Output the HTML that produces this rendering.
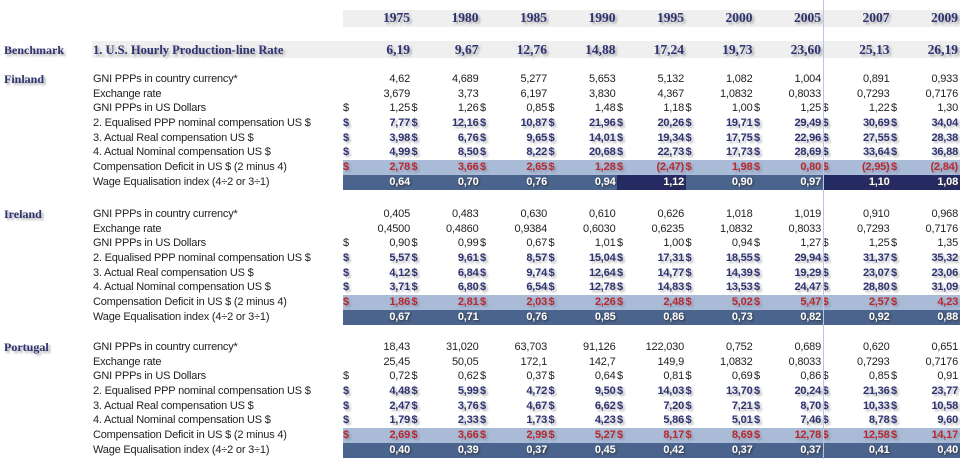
<!DOCTYPE html>
<html><head><meta charset="utf-8"><style>
body{margin:0;width:960px;height:459px;background:#fff;overflow:hidden;position:relative;font-family:"Liberation Sans",sans-serif}
#t{position:absolute;left:0;top:0;width:960px;height:459px}
.c{position:absolute;white-space:nowrap;font-size:11px;line-height:14px;color:#222;letter-spacing:-0.2px}
.b{font-weight:bold;color:#2e3270;text-shadow:2px 2px 2px #b8b8b8}
.r{font-weight:bold;color:#b8282d;text-shadow:2px 2px 2px #8d9cb8}
.w{font-weight:bold;color:#fff;text-shadow:1px 1px 2px #333}
.h{font-family:"Liberation Serif",serif;font-weight:bold;font-size:13.5px;color:#2e3270;text-shadow:2px 2px 2px #aaa;letter-spacing:0}
.band{position:absolute}
</style></head><body>
<div id="t"></div>
<script>
const years=["1975","1980","1985","1990","1995","2000","2005","2007","2009"];
const benchmark=["6,19","9,67","12,76","14,88","17,24","19,73","23,60","25,13","26,19"];
const rowLabels=["GNI PPPs in country currency*","Exchange rate","GNI PPPs in US Dollars","2. Equalised PPP nominal compensation US $","3. Actual Real compensation US $","4. Actual Nominal compensation US $","Compensation Deficit in US $ (2 minus 4)","Wage Equalisation index (4÷2 or 3÷1)"];
const countries=["Finland","Ireland","Portugal"];
const countryTops=[79,214,347];
const finland=[
["4,62","4,689","5,277","5,653","5,132","1,082","1,004","0,891","0,933"],
["3,679","3,73","6,197","3,830","4,367","1,0832","0,8033","0,7293","0,7176"],
["1,25","1,26","0,85","1,48","1,18","1,00","1,25","1,22","1,30"],
["7,77","12,16","10,87","21,96","20,26","19,71","29,49","30,69","34,04"],
["3,98","6,76","9,65","14,01","19,34","17,75","22,96","27,55","28,38"],
["4,99","8,50","8,22","20,68","22,73","17,73","28,69","33,64","36,88"],
["2,78","3,66","2,65","1,28","(2,47)","1,98","0,80","(2,95)","(2,84)"],
["0,64","0,70","0,76","0,94","1,12","0,90","0,97","1,10","1,08"]];
const ireland=[
["0,405","0,483","0,630","0,610","0,626","1,018","1,019","0,910","0,968"],
["0,4500","0,4860","0,9384","0,6030","0,6235","1,0832","0,8033","0,7293","0,7176"],
["0,90","0,99","0,67","1,01","1,00","0,94","1,27","1,25","1,35"],
["5,57","9,61","8,57","15,04","17,31","18,55","29,94","31,37","35,32"],
["4,12","6,84","9,74","12,64","14,77","14,39","19,29","23,07","23,06"],
["3,71","6,80","6,54","12,78","14,83","13,53","24,47","28,80","31,09"],
["1,86","2,81","2,03","2,26","2,48","5,02","5,47","2,57","4,23"],
["0,67","0,71","0,76","0,85","0,86","0,73","0,82","0,92","0,88"]];
const portugal=[
["18,43","31,020","63,703","91,126","122,030","0,752","0,689","0,620","0,651"],
["25,45","50,05","172,1","142,7","149,9","1,0832","0,8033","0,7293","0,7176"],
["0,72","0,62","0,37","0,64","0,81","0,69","0,86","0,85","0,91"],
["4,48","5,99","4,72","9,50","14,03","13,70","20,24","21,36","23,77"],
["2,47","3,76","4,67","6,62","7,20","7,21","8,70","10,33","10,58"],
["1,79","2,33","1,73","4,23","5,86","5,01","7,46","8,78","9,60"],
["2,69","3,66","2,99","5,27","8,17","8,69","12,78","12,58","14,17"],
["0,40","0,39","0,37","0,45","0,42","0,37","0,37","0,41","0,40"]];
const tables=[finland,ireland,portugal];
const T=document.getElementById('t');
const RH=14.65;
function colRight(i){return 410+68.5*i;}
function el(cls,x,y,txt,align){const d=document.createElement('div');d.className=cls;d.textContent=txt;d.style.top=y+'px';
 if(align==='r'){d.style.right=(960-x)+'px';}else{d.style.left=x+'px';}T.appendChild(d);return d;}
function band(x,y,w,h,col){const d=document.createElement('div');d.className='band';d.style.cssText+=`left:${x}px;top:${y}px;width:${w}px;height:${h}px;background:${col}`;T.appendChild(d);return d;}
// header
let hb=band(343,10,617,17,'#efefef');


years.forEach((y,i)=>{const d=el('c h',colRight(i),11,y,'r');

});
let bb=band(92,41,868,17,'#efefef');


let bl=el('c h',4,43,'Benchmark');bl.style.fontSize='12px';


let bt=el('c h',93,43,'1. U.S. Hourly Production-line Rate');bt.style.fontSize='12.5px';


benchmark.forEach((v,i)=>{const d=el('c h',colRight(i),43,v,'r');

});
tables.forEach((tab,ci)=>{
 const top=countryTops[ci]-7;
 const cn=el('c h',4,top,countries[ci]);cn.style.fontSize='12px';
 
 
 const b1=band(343,top+6*RH,617,RH,'#a9bbd6');
 
 
 years.forEach((y,i)=>{
  const v=parseFloat(tab[7][i].replace(',','.'));
  const x=343+68.5*i;
  const b2=band(x,top+7*RH,i==8?617-68.5*8:68.5+0.5,RH+0.5,v>1?'#262a62':'#4a648e');
  
  
 });
 rowLabels.forEach((lab,ri)=>{
  const y=top+ri*RH;
  const l=el('c',93,y,lab);
  
  
  tab[ri].forEach((v,i)=>{
   let cls='c';
   if(ri>=3&&ri<=5)cls='c b';else if(ri===6)cls='c r';else if(ri===7)cls='c w';
   const d=el(cls,colRight(i),y,v,'r');
   
   
   if(ri>=2&&ri<=6){
    const s=el(ri===2?'c':cls,colRight(i)-67,y,'$');
    
    
   }
  });
 });
});
const vl=band(823,0,1,459,'#b8c6e0');


</script>
</body></html>
